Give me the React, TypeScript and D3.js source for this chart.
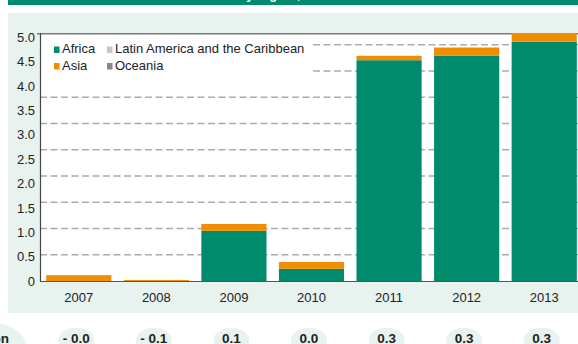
import React from "react";
import * as d3 from "d3";

const years = ["2007", "2008", "2009", "2010", "2011", "2012", "2013"];
const africa = [0, 0, 1.03, 0.25, 4.53, 4.62, 4.91];
const asia = [0.12, 0.02, 0.14, 0.14, 0.09, 0.17, 0.2];
const latinAmerica = [0, 0, 0, 0, 0, 0, 0];
const oceania = [0, 0, 0, 0, 0, 0, 0];
const yTicks = [0, 0.5, 1, 1.5, 2, 2.5, 3, 3.5, 4, 4.5, 5];
const gridTicks = [0.5, 1, 1.5, 2, 2.5, 3, 3.5, 4, 4.5];
const changeLabels = ["- 0.0", "- 0.1", "0.1", "0.0", "0.3", "0.3", "0.3"];

const GREEN = "#008b6c";
const ORANGE = "#f18d00";
const LIGHT = "#e8f2ee";
const LATAM = "#c6c6c6";
const OCEANIA = "#878787";
const FONT = "'Liberation Sans', Arial, sans-serif";

const seriesKeys = ["africa", "latin", "asia", "oceania"];
const seriesColors: Record<string, string> = {
  africa: GREEN,
  latin: LATAM,
  asia: ORANGE,
  oceania: OCEANIA,
};

export default function App() {
  const W = 578;
  const H = 344;
  const left = 40;
  const right = 578;
  const top = 34;
  const base = 281;

  const x = d3
    .scaleBand<string>()
    .domain(years)
    .range([left, 583])
    .paddingInner(0.16)
    .paddingOuter(0.08);
  // scale used for bars and tick labels
  const y = d3.scaleLinear().domain([0, 5]).range([base, base - 5 * 48.74]);
  // scale used for dashed gridlines
  const yGrid = d3.scaleLinear().domain([0, 5]).range([base, base - 5 * 52.5]);

  const rows = years.map((yr, i) => ({
    year: yr,
    africa: africa[i],
    latin: latinAmerica[i],
    asia: asia[i],
    oceania: oceania[i],
  }));
  const stack = d3.stack<any>().keys(seriesKeys)(rows);

  return (
    <svg
      width={W}
      height={H}
      style={{ position: "absolute", left: 0, top: 0, fontFamily: FONT }}
    >
      <defs>
        <clipPath id="plotClip">
          <rect x={left} y={33} width={right - left} height={base - 33 + 1} />
        </clipPath>
      </defs>
      <rect x={0} y={0} width={W} height={H} fill="#ffffff" />
      {/* header band */}
      <rect x={8} y={0} width={W - 8} height={5} fill={GREEN} />
      <text
        x={273}
        y={-1.2}
        textAnchor="middle"
        fill="#ffffff"
        fontSize={13}
        fontWeight="bold"
      >
        Net flows by region, 2007–2013
      </text>
      {/* light panel */}
      <rect x={8} y={13} width={W - 8} height={300} fill={LIGHT} />
      {/* plot area */}
      <rect x={left} y={top} width={right - left} height={base - top} fill="#ffffff" />
      {/* gridlines */}
      {gridTicks.map((t) => (
        <line
          key={t}
          x1={left}
          x2={right}
          y1={yGrid(t)}
          y2={yGrid(t)}
          stroke="#ababab"
          strokeWidth={1.3}
          strokeDasharray="7,3.5"
        />
      ))}
      {/* legend background */}
      <rect x={left + 1} y={top + 1} width={271} height={41} fill="#ffffff" />
      {/* top border */}
      <line x1={37} x2={right} y1={33.7} y2={33.7} stroke="#7a7a7a" strokeWidth={1.5} />
      {/* bars */}
      <g clipPath="url(#plotClip)">
        {stack.map((s) => (
          <g key={s.key} fill={seriesColors[s.key]}>
            {s.map((d, i) => {
              const h = y(d[0]) - y(d[1]);
              if (h <= 0) return null;
              return (
                <rect
                  key={i}
                  x={x(years[i])}
                  y={y(d[1])}
                  width={x.bandwidth()}
                  height={h}
                />
              );
            })}
          </g>
        ))}
      </g>
      {/* axes */}
      <line x1={40.5} x2={40.5} y1={33} y2={base + 0.5} stroke="#444" strokeWidth={1.2} />
      <line x1={40} x2={right} y1={base + 0.5} y2={base + 0.5} stroke="#555" strokeWidth={1.2} />
      {/* y tick labels */}
      {yTicks.map((t) => (
        <text
          key={t}
          x={35}
          y={y(t) + 4.7}
          textAnchor="end"
          fontSize={13}
          fill="#222"
        >
          {t === 0 ? "0" : d3.format(".1f")(t)}
        </text>
      ))}
      {/* x labels */}
      {years.map((yr) => (
        <text
          key={yr}
          x={(x(yr) as number) + x.bandwidth() / 2}
          y={302}
          textAnchor="middle"
          fontSize={13}
          fill="#222"
        >
          {yr}
        </text>
      ))}
      {/* legend */}
      {[
        { label: "Africa", color: GREEN, lx: 54, ly: 53 },
        { label: "Latin America and the Caribbean", color: LATAM, lx: 107, ly: 53 },
        { label: "Asia", color: ORANGE, lx: 54, ly: 69.5 },
        { label: "Oceania", color: OCEANIA, lx: 107, ly: 69.5 },
      ].map((l) => (
        <g key={l.label}>
          <rect x={l.lx} y={l.ly - 6.5} width={5.5} height={6.5} fill={l.color} />
          <text x={l.lx + 8} y={l.ly} fontSize={13} fill="#222">
            {l.label}
          </text>
        </g>
      ))}
      {/* change pills */}
      <ellipse cx={-14} cy={346} rx={40} ry={24} fill={LIGHT} />
      <text x={9} y={343} textAnchor="end" fontSize={13.5} fontWeight="bold" fill="#222">
        Variation
      </text>
      {changeLabels.map((lab, i) => {
        const cx = (x(years[i]) as number) + x.bandwidth() / 2 - 2.5;
        return (
          <g key={i}>
            <rect x={cx - 18} y={328} width={36} height={26} rx={16} ry={13} fill={LIGHT} />
            <text
              x={cx}
              y={343}
              textAnchor="middle"
              fontSize={13.5}
              fontWeight="bold"
              fill="#222"
            >
              {lab}
            </text>
          </g>
        );
      })}
    </svg>
  );
}
